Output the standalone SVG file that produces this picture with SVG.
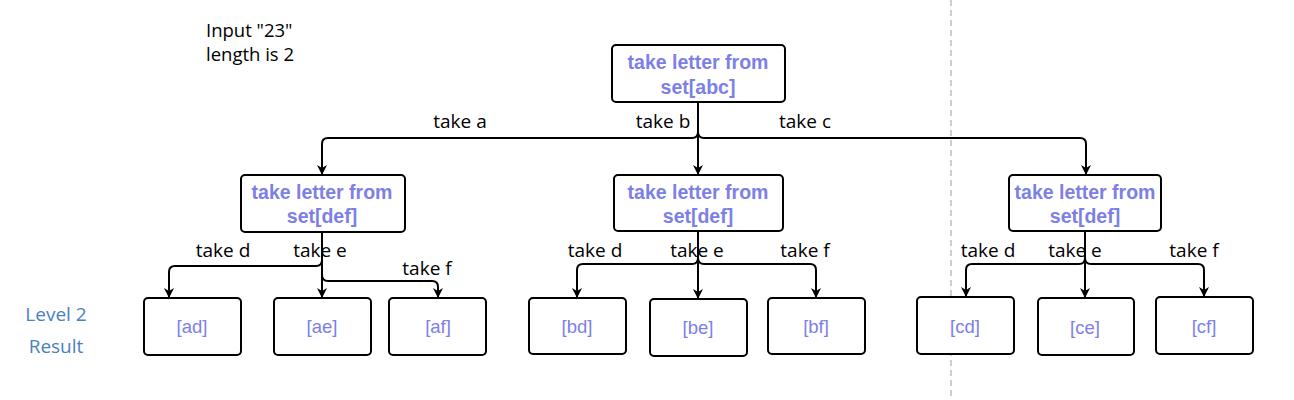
<svg xmlns="http://www.w3.org/2000/svg" width="1294" height="400" viewBox="0 0 1294 400">
<defs>
<marker id="arr" viewBox="0 0 10 10" refX="9" refY="5" markerWidth="10" markerHeight="10" markerUnits="userSpaceOnUse" orient="auto">
<path d="M0,0 L10,5 L0,10 L3,5 Z" fill="#000"/>
</marker>
<style>
.box{fill:#fff;stroke:#000;stroke-width:2}
.bt{font-family:"Liberation Sans",Arial,sans-serif;font-weight:bold;font-size:19.5px;fill:#7c80e6;text-anchor:middle}
.lt{font-family:"Liberation Sans",Arial,sans-serif;font-size:18.5px;fill:#7c80e6;text-anchor:middle}
.lab{font-family:"Open Sans",sans-serif;font-size:19px;fill:#000;text-anchor:middle}
.conn{fill:none;stroke:#000;stroke-width:2;marker-end:url(#arr)}
.note{font-family:"Open Sans",sans-serif;font-size:18.5px;fill:#000}
.lvl{font-family:"Open Sans",sans-serif;font-size:19px;fill:#4a7fc1;text-anchor:middle}
</style>
</defs>
<rect width="1294" height="400" fill="#fff"/>
<line x1="951" y1="0" x2="951" y2="400" stroke="#bdbdbd" stroke-width="1.5" stroke-dasharray="6,4"/>
<g id="note">
<text class="note" x="206" y="37">Input "23"</text>
<text class="note" x="206" y="61">length is 2</text>
</g>
<g id="level">
<text class="lvl" x="56" y="321">Level 2</text>
<text class="lvl" x="56" y="353">Result</text>
</g>
<g id="connectors">
<path class="conn" d="M698,102 V132 Q698,138 692,138 H328 Q322,138 322,144 V174"/>
<path class="conn" d="M698,102 V174"/>
<path class="conn" d="M698,102 V132 Q698,138 704,138 H1080 Q1086,138 1086,144 V174"/>
<path class="conn" d="M322,232 V260 Q322,266 316,266 H175 Q169,266 169,272 V297"/>
<path class="conn" d="M322,232 V297"/>
<path class="conn" d="M322,232 V275 Q322,281 328,281 H432 Q438,281 438,287 V297"/>
<path class="conn" d="M698,232 V258 Q698,264 692,264 H583 Q577,264 577,270 V297"/>
<path class="conn" d="M698,232 V298"/>
<path class="conn" d="M698,232 V258 Q698,264 704,264 H810 Q816,264 816,270 V297"/>
<path class="conn" d="M1085,232 V258 Q1085,264 1079,264 H972 Q966,264 966,270 V296"/>
<path class="conn" d="M1085,232 V297"/>
<path class="conn" d="M1085,232 V258 Q1085,264 1091,264 H1198 Q1204,264 1204,270 V296"/>
<text class="lab" x="460" y="128">take a</text>
<text class="lab" x="663" y="128">take b</text>
<text class="lab" x="805" y="128">take c</text>
<text class="lab" x="223" y="257">take d</text>
<text class="lab" x="320" y="257">take e</text>
<text class="lab" x="427" y="275">take f</text>
<text class="lab" x="595" y="257">take d</text>
<text class="lab" x="697" y="257">take e</text>
<text class="lab" x="805" y="257">take f</text>
<text class="lab" x="988" y="257">take d</text>
<text class="lab" x="1075" y="257">take e</text>
<text class="lab" x="1194" y="257">take f</text>
</g>
<g id="root">
<rect class="box" x="612" y="45" width="173" height="57" rx="4"/>
<text class="bt" x="698" y="69">take letter from</text>
<text class="bt" x="698" y="94">set[abc]</text>
</g>
<g id="l1a">
<rect class="box" x="241" y="175" width="164" height="57" rx="4"/>
<text class="bt" x="322" y="199">take letter from</text>
<text class="bt" x="322" y="223">set[def]</text>
</g>
<g id="l1b">
<rect class="box" x="614" y="175" width="169" height="56" rx="4"/>
<text class="bt" x="698" y="199">take letter from</text>
<text class="bt" x="698" y="223">set[def]</text>
</g>
<g id="l1c">
<rect class="box" x="1009" y="175" width="152" height="56" rx="4"/>
<text class="bt" x="1085" y="199">take letter from</text>
<text class="bt" x="1085" y="223">set[def]</text>
</g>
<g id="ad"><rect class="box" x="144" y="298" width="97" height="57" rx="4"/><text class="lt" x="192" y="333">[ad]</text></g>
<g id="ae"><rect class="box" x="274" y="298" width="97" height="57" rx="4"/><text class="lt" x="322" y="333">[ae]</text></g>
<g id="af"><rect class="box" x="389" y="298" width="97" height="57" rx="4"/><text class="lt" x="438" y="333">[af]</text></g>
<g id="bd"><rect class="box" x="529" y="298" width="97" height="56" rx="4"/><text class="lt" x="577" y="333">[bd]</text></g>
<g id="be"><rect class="box" x="650" y="299" width="97" height="57" rx="4"/><text class="lt" x="698" y="334">[be]</text></g>
<g id="bf"><rect class="box" x="768" y="298" width="97" height="56" rx="4"/><text class="lt" x="816" y="333">[bf]</text></g>
<g id="cd"><rect class="box" x="917" y="297" width="97" height="57" rx="4"/><text class="lt" x="965" y="333">[cd]</text></g>
<g id="ce"><rect class="box" x="1038" y="298" width="96" height="57" rx="4"/><text class="lt" x="1085" y="334">[ce]</text></g>
<g id="cf"><rect class="box" x="1156" y="297" width="97" height="57" rx="4"/><text class="lt" x="1204" y="333">[cf]</text></g>
</svg>
